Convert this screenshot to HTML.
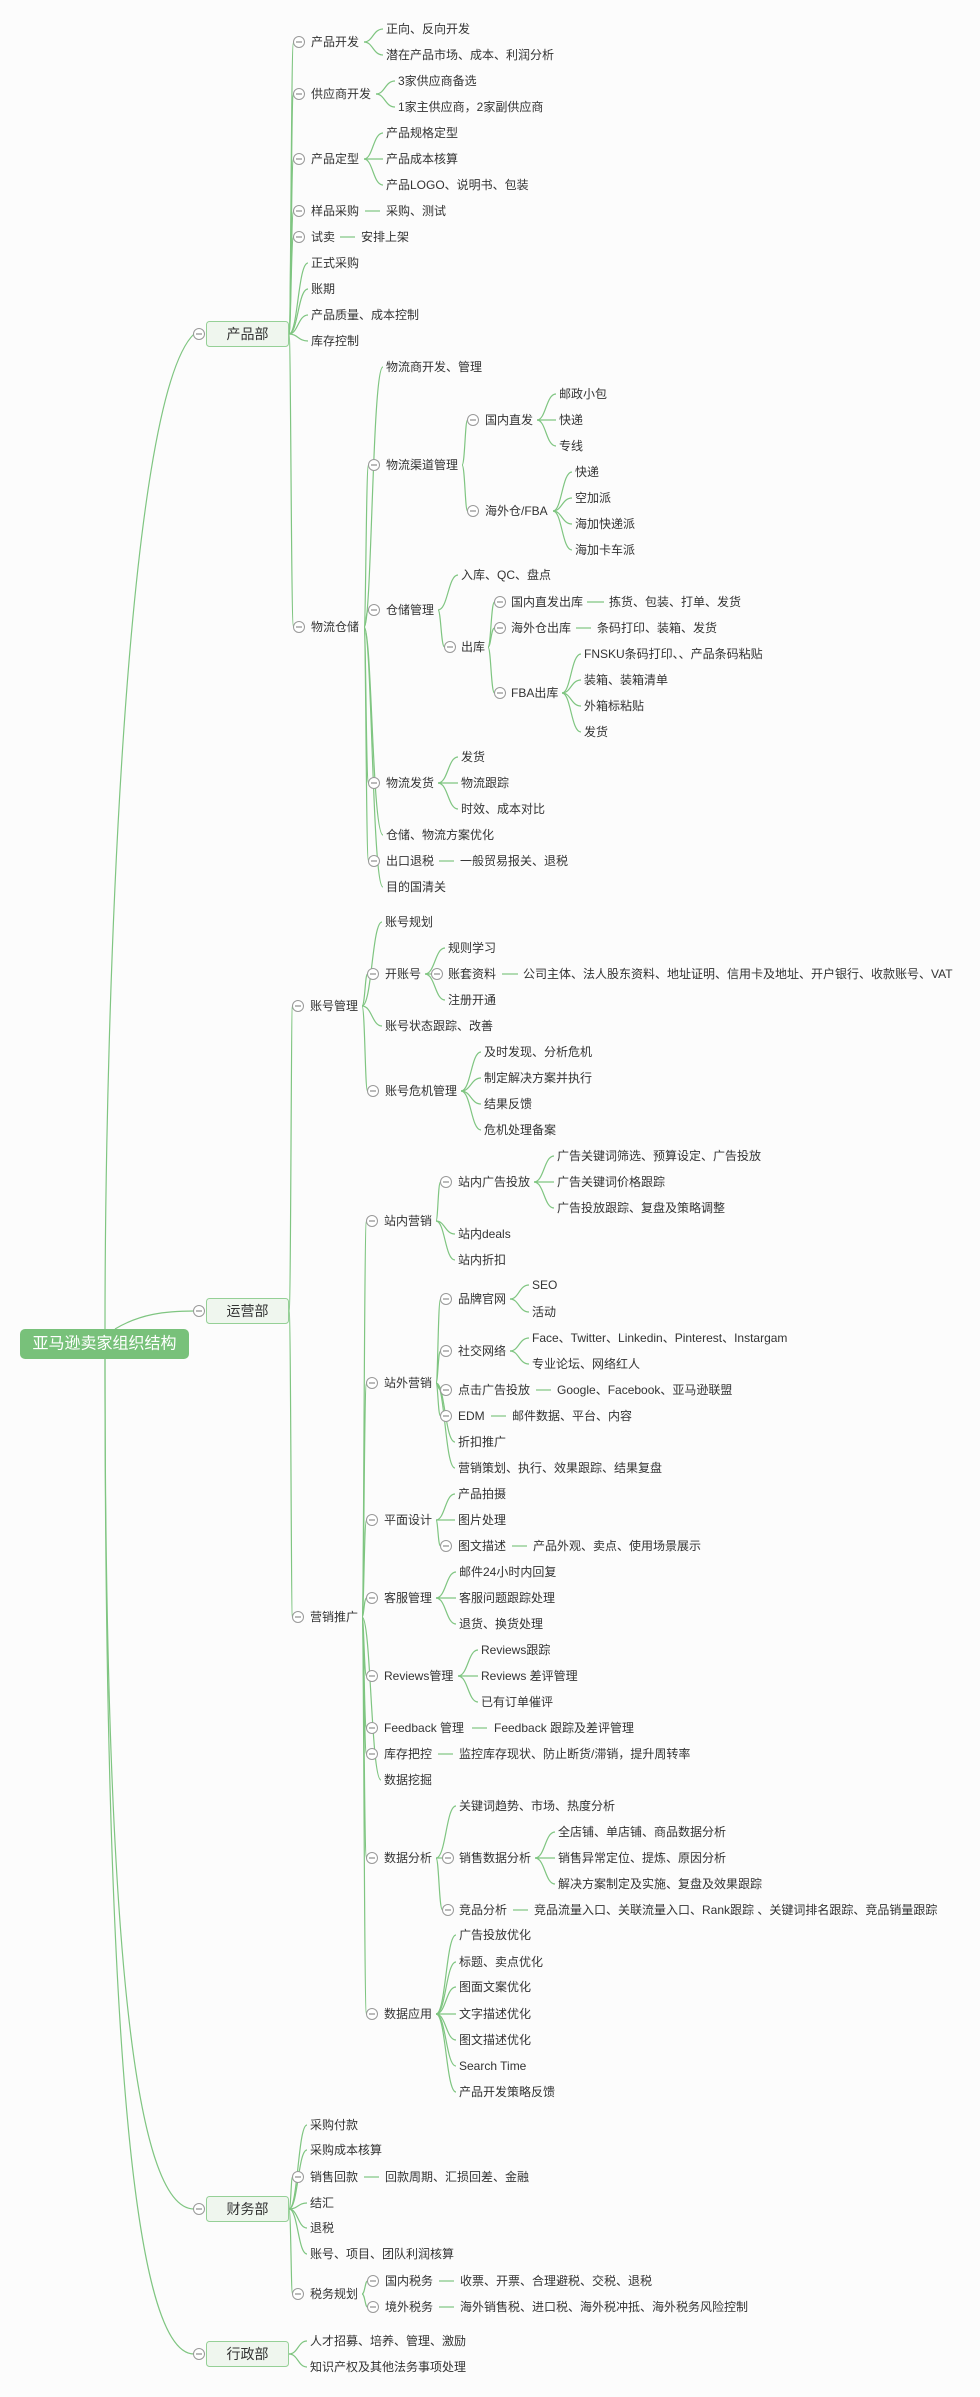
<!DOCTYPE html>
<html><head><meta charset="utf-8"><style>
html,body{margin:0;padding:0;background:#fcfcfc;}
svg{display:block;}
text{font-family:"Liberation Sans","Noto Sans CJK SC",sans-serif;font-size:12px;fill:#333;dominant-baseline:central;}
.p{fill:none;stroke:#7fc581;stroke-width:1.2;}
.d{font-size:14px;text-anchor:middle;}
</style></head><body>
<svg width="980" height="2397" viewBox="0 0 980 2397" xmlns="http://www.w3.org/2000/svg">
<defs><g id="m"><circle cx="0" cy="0" r="5.5" fill="#fff" stroke="#999" stroke-width="1"/><line x1="-3" y1="0" x2="3" y2="0" stroke="#777" stroke-width="1"/></g></defs>
<g class="p">
<path d="M105 1329 C105 1000 125 400 194 334"/>
<path d="M115 1329 C140 1314 165 1311 194 1311"/>
<path d="M105 1359 C105 1900 130 2209 194 2209"/>
<path d="M105 1359 C105 2000 130 2354 194 2354"/>
<path d="M289 334 C291 334 291 42 293.5 42"/>
<path d="M289 334 C291 334 291 94 293.5 94"/>
<path d="M289 334 C291 334 291 159 293.5 159"/>
<path d="M289 334 C291 334 291 211 293.5 211"/>
<path d="M289 334 C291 334 291 237 293.5 237"/>
<path d="M289 334 C298 334 298 263 308 263"/>
<path d="M289 334 C298 334 298 289 308 289"/>
<path d="M289 334 C298 334 298 315 308 315"/>
<path d="M289 334 C298 334 298 341 308 341"/>
<path d="M289 334 C291 334 291 627 293.5 627"/>
<path d="M364 42 C373 42 373 29 383 29"/><path d="M364 42 C373 42 373 55 383 55"/>
<path d="M376 94 C385 94 385 81 395 81"/><path d="M376 94 C385 94 385 107 395 107"/>
<path d="M364 159 C373 159 373 133 383 133"/><path d="M364 159 L383 159"/><path d="M364 159 C373 159 373 185 383 185"/>
<path d="M365 211 L380 211"/><path d="M340 237 L355 237"/>
<path d="M364 627 C372 627 372 367 383 367"/>
<path d="M364 627 C366 627 366 465 368.5 465"/>
<path d="M364 627 C366 627 366 610 368.5 610"/>
<path d="M364 627 C366 627 366 783 368.5 783"/>
<path d="M364 627 C372 627 372 835 383 835"/>
<path d="M364 627 C366 627 366 861 368.5 861"/>
<path d="M364 627 C372 627 372 887 383 887"/>
<path d="M462 465 C465 465 465 420 467.5 420"/><path d="M462 465 C465 465 465 511 467.5 511"/>
<path d="M537 420 C546 420 546 394 556 394"/><path d="M537 420 L556 420"/><path d="M537 420 C546 420 546 446 556 446"/>
<path d="M553 511 C562 511 562 472 572 472"/><path d="M553 511 C562 511 562 498 572 498"/><path d="M553 511 C562 511 562 524 572 524"/><path d="M553 511 C562 511 562 550 572 550"/>
<path d="M438 610 C448 610 448 575 458 575"/><path d="M438 610 C441 610 441 647 444.5 647"/>
<path d="M488 647 C491 647 491 602 494.5 602"/><path d="M488 647 C491 647 491 628 494.5 628"/><path d="M488 647 C491 647 491 693 494.5 693"/>
<path d="M587 602 L604 602"/><path d="M576 628 L591 628"/>
<path d="M562 693 C571 693 571 654 581 654"/><path d="M562 693 C571 693 571 680 581 680"/><path d="M562 693 C571 693 571 706 581 706"/><path d="M562 693 C571 693 571 732 581 732"/>
<path d="M438 783 C448 783 448 757 458 757"/><path d="M438 783 L458 783"/><path d="M438 783 C448 783 448 809 458 809"/>
<path d="M439 861 L454 861"/>
<path d="M289 1311 C291 1311 291 1006 292.5 1006"/>
<path d="M289 1311 C291 1311 291 1617 292.5 1617"/>
<path d="M362 1006 C372 1006 372 922 382 922"/>
<path d="M362 1006 C365 1006 365 974 367.5 974"/>
<path d="M362 1006 C372 1006 372 1026 382 1026"/>
<path d="M362 1006 C365 1006 365 1091 367.5 1091"/>
<path d="M425 974 C435 974 435 948 445 948"/><path d="M425 974 L431.5 974"/><path d="M425 974 C435 974 435 1000 445 1000"/>
<path d="M502 974 L518 974"/>
<path d="M461 1091 C471 1091 471 1052 481 1052"/><path d="M461 1091 C471 1091 471 1078 481 1078"/><path d="M461 1091 C471 1091 471 1104 481 1104"/><path d="M461 1091 C471 1091 471 1130 481 1130"/>
<path d="M362 1617 C364 1617 364 1221 366.5 1221"/>
<path d="M362 1617 C364 1617 364 1383 366.5 1383"/>
<path d="M362 1617 C364 1617 364 1520 366.5 1520"/>
<path d="M362 1617 C364 1617 364 1598 366.5 1598"/>
<path d="M362 1617 C364 1617 364 1676 366.5 1676"/>
<path d="M362 1617 C364 1617 364 1728 366.5 1728"/>
<path d="M362 1617 C364 1617 364 1754 366.5 1754"/>
<path d="M362 1617 C371 1617 371 1780 381 1780"/>
<path d="M362 1617 C364 1617 364 1858 366.5 1858"/>
<path d="M362 1617 C364 1617 364 2014 366.5 2014"/>
<path d="M436 1221 C438 1221 438 1182 440.5 1182"/><path d="M436 1221 C445 1221 445 1234 455 1234"/><path d="M436 1221 C445 1221 445 1260 455 1260"/>
<path d="M534 1182 C544 1182 544 1156 554 1156"/><path d="M534 1182 L554 1182"/><path d="M534 1182 C544 1182 544 1208 554 1208"/>
<path d="M436 1383 C438 1383 438 1299 440.5 1299"/><path d="M436 1383 C438 1383 438 1351 440.5 1351"/><path d="M436 1383 C438 1383 438 1390 440.5 1390"/><path d="M436 1383 C438 1383 438 1416 440.5 1416"/><path d="M436 1383 C445 1383 445 1442 455 1442"/><path d="M436 1383 C445 1383 445 1468 455 1468"/>
<path d="M510 1299 C519 1299 519 1285 529 1285"/><path d="M510 1299 C519 1299 519 1312 529 1312"/>
<path d="M510 1351 C519 1351 519 1338 529 1338"/><path d="M510 1351 C519 1351 519 1364 529 1364"/>
<path d="M536 1390 L551 1390"/><path d="M491 1416 L506 1416"/>
<path d="M436 1520 C445 1520 445 1494 455 1494"/><path d="M436 1520 L455 1520"/><path d="M436 1520 C438 1520 438 1546 440.5 1546"/>
<path d="M512 1546 L527 1546"/>
<path d="M436 1598 C446 1598 446 1572 456 1572"/><path d="M436 1598 L456 1598"/><path d="M436 1598 C446 1598 446 1624 456 1624"/>
<path d="M458 1676 C468 1676 468 1650 478 1650"/><path d="M458 1676 L478 1676"/><path d="M458 1676 C468 1676 468 1702 478 1702"/>
<path d="M472 1728 L487 1728"/><path d="M438 1754 L453 1754"/>
<path d="M436 1858 C446 1858 446 1806 456 1806"/><path d="M436 1858 L442.5 1858"/><path d="M436 1858 C439 1858 439 1910 442.5 1910"/>
<path d="M535 1858 C545 1858 545 1832 555 1832"/><path d="M535 1858 L555 1858"/><path d="M535 1858 C545 1858 545 1884 555 1884"/>
<path d="M513 1910 L528 1910"/>
<path d="M436 2014 C446 2014 446 1935 456 1935"/><path d="M436 2014 C446 2014 446 1962 456 1962"/><path d="M436 2014 C446 2014 446 1987 456 1987"/><path d="M436 2014 L456 2014"/><path d="M436 2014 C446 2014 446 2040 456 2040"/><path d="M436 2014 C446 2014 446 2066 456 2066"/><path d="M436 2014 C446 2014 446 2092 456 2092"/>
<path d="M289 2209 C298 2209 298 2125 307 2125"/>
<path d="M289 2209 C298 2209 298 2150 307 2150"/>
<path d="M289 2209 C291 2209 291 2177 292.5 2177"/>
<path d="M289 2209 C298 2209 298 2203 307 2203"/>
<path d="M289 2209 C298 2209 298 2228 307 2228"/>
<path d="M289 2209 C298 2209 298 2254 307 2254"/>
<path d="M289 2209 C291 2209 291 2294 292.5 2294"/>
<path d="M364 2177 L379 2177"/>
<path d="M362 2294 C365 2294 365 2281 367.5 2281"/><path d="M362 2294 C365 2294 365 2307 367.5 2307"/>
<path d="M439 2281 L454 2281"/><path d="M439 2307 L454 2307"/>
<path d="M289 2354 C298 2354 298 2341 307 2341"/><path d="M289 2354 C298 2354 298 2367 307 2367"/>
</g>
<rect x="20" y="1329" width="169" height="30" rx="5" fill="#78c17a"/>
<text x="104.5" y="1344" style="font-size:16px;fill:#fff;text-anchor:middle">亚马逊卖家组织结构</text>
<rect x="206.5" y="321.5" width="82" height="25" rx="3" fill="#eff6ee" stroke="#95d096"/>
<text class="d" x="247.5" y="334">产品部</text>
<rect x="206.5" y="1298.5" width="82" height="25" rx="3" fill="#eff6ee" stroke="#95d096"/>
<text class="d" x="247.5" y="1311">运营部</text>
<rect x="206.5" y="2196.5" width="82" height="25" rx="3" fill="#eff6ee" stroke="#95d096"/>
<text class="d" x="247.5" y="2209">财务部</text>
<rect x="206.5" y="2341.5" width="82" height="25" rx="3" fill="#eff6ee" stroke="#95d096"/>
<text class="d" x="247.5" y="2354">行政部</text>
<use href="#m" x="199" y="334"/><use href="#m" x="199" y="1311"/><use href="#m" x="199" y="2209"/><use href="#m" x="199" y="2354"/>
<use href="#m" x="299" y="42"/><use href="#m" x="299" y="94"/><use href="#m" x="299" y="159"/><use href="#m" x="299" y="211"/><use href="#m" x="299" y="237"/><use href="#m" x="299" y="627"/>
<use href="#m" x="374" y="465"/><use href="#m" x="374" y="610"/><use href="#m" x="374" y="783"/><use href="#m" x="374" y="861"/>
<use href="#m" x="473" y="420"/><use href="#m" x="473" y="511"/><use href="#m" x="450" y="647"/>
<use href="#m" x="500" y="602"/><use href="#m" x="500" y="628"/><use href="#m" x="500" y="693"/>
<use href="#m" x="298" y="1006"/><use href="#m" x="298" y="1617"/>
<use href="#m" x="373" y="974"/><use href="#m" x="373" y="1091"/><use href="#m" x="437" y="974"/>
<use href="#m" x="372" y="1221"/><use href="#m" x="372" y="1383"/><use href="#m" x="372" y="1520"/><use href="#m" x="372" y="1598"/><use href="#m" x="372" y="1676"/><use href="#m" x="372" y="1728"/><use href="#m" x="372" y="1754"/><use href="#m" x="372" y="1858"/><use href="#m" x="372" y="2014"/>
<use href="#m" x="446" y="1182"/><use href="#m" x="446" y="1299"/><use href="#m" x="446" y="1351"/><use href="#m" x="446" y="1390"/><use href="#m" x="446" y="1416"/><use href="#m" x="446" y="1546"/>
<use href="#m" x="448" y="1858"/><use href="#m" x="448" y="1910"/>
<use href="#m" x="298" y="2177"/><use href="#m" x="298" y="2294"/><use href="#m" x="373" y="2281"/><use href="#m" x="373" y="2307"/>
<text x="311" y="42">产品开发</text><text x="311" y="94">供应商开发</text><text x="311" y="159">产品定型</text><text x="311" y="211">样品采购</text><text x="311" y="237">试卖</text><text x="311" y="263">正式采购</text><text x="311" y="289">账期</text><text x="311" y="315">产品质量、成本控制</text><text x="311" y="341">库存控制</text><text x="311" y="627">物流仓储</text>
<text x="386" y="29">正向、反向开发</text><text x="386" y="55">潜在产品市场、成本、利润分析</text>
<text x="398" y="81">3家供应商备选</text><text x="398" y="107">1家主供应商，2家副供应商</text>
<text x="386" y="133">产品规格定型</text><text x="386" y="159">产品成本核算</text><text x="386" y="185">产品LOGO、说明书、包装</text>
<text x="386" y="211">采购、测试</text><text x="361" y="237">安排上架</text>
<text x="386" y="367">物流商开发、管理</text><text x="386" y="465">物流渠道管理</text><text x="386" y="610">仓储管理</text><text x="386" y="783">物流发货</text><text x="386" y="835">仓储、物流方案优化</text><text x="386" y="861">出口退税</text><text x="386" y="887">目的国清关</text>
<text x="485" y="420">国内直发</text><text x="485" y="511">海外仓/FBA</text>
<text x="559" y="394">邮政小包</text><text x="559" y="420">快递</text><text x="559" y="446">专线</text>
<text x="575" y="472">快递</text><text x="575" y="498">空加派</text><text x="575" y="524">海加快递派</text><text x="575" y="550">海加卡车派</text>
<text x="461" y="575">入库、QC、盘点</text><text x="461" y="647">出库</text>
<text x="511" y="602">国内直发出库</text><text x="609" y="602">拣货、包装、打单、发货</text>
<text x="511" y="628">海外仓出库</text><text x="597" y="628">条码打印、装箱、发货</text>
<text x="511" y="693">FBA出库</text>
<text x="584" y="654">FNSKU条码打印、、产品条码粘贴</text><text x="584" y="680">装箱、装箱清单</text><text x="584" y="706">外箱标粘贴</text><text x="584" y="732">发货</text>
<text x="461" y="757">发货</text><text x="461" y="783">物流跟踪</text><text x="461" y="809">时效、成本对比</text>
<text x="460" y="861">一般贸易报关、退税</text>
<text x="310" y="1006">账号管理</text><text x="310" y="1617">营销推广</text>
<text x="385" y="922">账号规划</text><text x="385" y="974">开账号</text><text x="385" y="1026">账号状态跟踪、改善</text><text x="385" y="1091">账号危机管理</text>
<text x="448" y="948">规则学习</text><text x="448" y="974">账套资料</text><text x="448" y="1000">注册开通</text>
<text x="523" y="974">公司主体、法人股东资料、地址证明、信用卡及地址、开户银行、收款账号、VAT</text>
<text x="484" y="1052">及时发现、分析危机</text><text x="484" y="1078">制定解决方案并执行</text><text x="484" y="1104">结果反馈</text><text x="484" y="1130">危机处理备案</text>
<text x="384" y="1221">站内营销</text><text x="384" y="1383">站外营销</text><text x="384" y="1520">平面设计</text><text x="384" y="1598">客服管理</text><text x="384" y="1676">Reviews管理</text><text x="384" y="1728">Feedback 管理</text><text x="384" y="1754">库存把控</text><text x="384" y="1780">数据挖掘</text><text x="384" y="1858">数据分析</text><text x="384" y="2014">数据应用</text>
<text x="458" y="1182">站内广告投放</text><text x="458" y="1234">站内deals</text><text x="458" y="1260">站内折扣</text>
<text x="557" y="1156">广告关键词筛选、预算设定、广告投放</text><text x="557" y="1182">广告关键词价格跟踪</text><text x="557" y="1208">广告投放跟踪、复盘及策略调整</text>
<text x="458" y="1299">品牌官网</text><text x="532" y="1285">SEO</text><text x="532" y="1312">活动</text>
<text x="458" y="1351">社交网络</text><text x="532" y="1338">Face、Twitter、Linkedin、Pinterest、Instargam</text><text x="532" y="1364">专业论坛、网络红人</text>
<text x="458" y="1390">点击广告投放</text><text x="557" y="1390">Google、Facebook、亚马逊联盟</text>
<text x="458" y="1416">EDM</text><text x="512" y="1416">邮件数据、平台、内容</text>
<text x="458" y="1442">折扣推广</text><text x="458" y="1468">营销策划、执行、效果跟踪、结果复盘</text>
<text x="458" y="1494">产品拍摄</text><text x="458" y="1520">图片处理</text><text x="458" y="1546">图文描述</text><text x="533" y="1546">产品外观、卖点、使用场景展示</text>
<text x="459" y="1572">邮件24小时内回复</text><text x="459" y="1598">客服问题跟踪处理</text><text x="459" y="1624">退货、换货处理</text>
<text x="481" y="1650">Reviews跟踪</text><text x="481" y="1676">Reviews 差评管理</text><text x="481" y="1702">已有订单催评</text>
<text x="494" y="1728">Feedback 跟踪及差评管理</text>
<text x="459" y="1754">监控库存现状、防止断货/滞销，提升周转率</text>
<text x="459" y="1806">关键词趋势、市场、热度分析</text><text x="459" y="1858">销售数据分析</text><text x="459" y="1910">竞品分析</text>
<text x="558" y="1832">全店铺、单店铺、商品数据分析</text><text x="558" y="1858">销售异常定位、提炼、原因分析</text><text x="558" y="1884">解决方案制定及实施、复盘及效果跟踪</text>
<text x="534" y="1910">竞品流量入口、关联流量入口、Rank跟踪 、关键词排名跟踪、竞品销量跟踪</text>
<text x="459" y="1935">广告投放优化</text><text x="459" y="1962">标题、卖点优化</text><text x="459" y="1987">图面文案优化</text><text x="459" y="2014">文字描述优化</text><text x="459" y="2040">图文描述优化</text><text x="459" y="2066">Search Time</text><text x="459" y="2092">产品开发策略反馈</text>
<text x="310" y="2125">采购付款</text><text x="310" y="2150">采购成本核算</text><text x="310" y="2177">销售回款</text><text x="385" y="2177">回款周期、汇损回差、金融</text>
<text x="310" y="2203">结汇</text><text x="310" y="2228">退税</text><text x="310" y="2254">账号、项目、团队利润核算</text><text x="310" y="2294">税务规划</text>
<text x="385" y="2281">国内税务</text><text x="460" y="2281">收票、开票、合理避税、交税、退税</text>
<text x="385" y="2307">境外税务</text><text x="460" y="2307">海外销售税、进口税、海外税冲抵、海外税务风险控制</text>
<text x="310" y="2341">人才招募、培养、管理、激励</text><text x="310" y="2367">知识产权及其他法务事项处理</text>
</svg>
</body></html>
